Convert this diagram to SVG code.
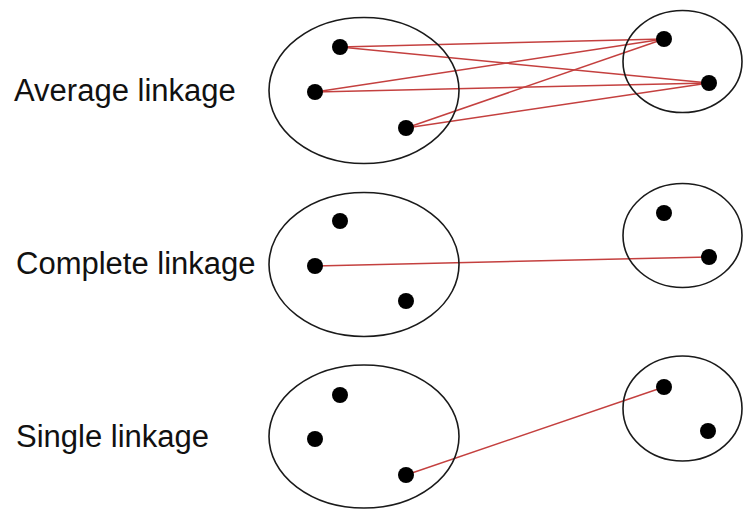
<svg xmlns="http://www.w3.org/2000/svg" width="744" height="511" viewBox="0 0 744 511">
<style>
.cl{fill:none;stroke:#1a1a1a;stroke-width:1.6}
.pt{fill:#000}
.lk{stroke:#c4403f;stroke-width:1.5;fill:none}
.lb{font-family:"Liberation Sans",Arial,sans-serif;font-size:31px;fill:#111}
</style>
<rect width="744" height="511" fill="#fff"/>
<g id="connectors">
<line class="lk" x1="340" y1="47" x2="664" y2="39"/>
<line class="lk" x1="340" y1="47" x2="709" y2="83"/>
<line class="lk" x1="315" y1="92" x2="664" y2="39"/>
<line class="lk" x1="315" y1="92" x2="709" y2="83"/>
<line class="lk" x1="406" y1="128" x2="664" y2="39"/>
<line class="lk" x1="406" y1="128" x2="709" y2="83"/>
<line class="lk" x1="315" y1="266" x2="709" y2="257"/>
<line class="lk" x1="406" y1="475" x2="664" y2="387"/>
</g>
<g id="label-average"><text class="lb" x="14" y="101">Average linkage</text></g>
<g id="label-complete"><text class="lb" x="16" y="274">Complete linkage</text></g>
<g id="label-single"><text class="lb" x="16" y="447">Single linkage</text></g>
<g id="avg-left">
<ellipse class="cl" cx="364" cy="90.5" rx="95" ry="73"/>
<circle class="pt" cx="340" cy="47" r="8"/>
<circle class="pt" cx="315" cy="92" r="8"/>
<circle class="pt" cx="406" cy="128" r="8"/>
</g>
<g id="avg-right">
<ellipse class="cl" cx="682.5" cy="61.5" rx="59.5" ry="51"/>
<circle class="pt" cx="664" cy="39" r="8"/>
<circle class="pt" cx="709" cy="83" r="8"/>
</g>
<g id="comp-left">
<ellipse class="cl" cx="364" cy="264.5" rx="95" ry="72"/>
<circle class="pt" cx="340" cy="221" r="8"/>
<circle class="pt" cx="315" cy="266" r="8"/>
<circle class="pt" cx="406" cy="301" r="8"/>
</g>
<g id="comp-right">
<ellipse class="cl" cx="682.5" cy="235.5" rx="59.5" ry="52"/>
<circle class="pt" cx="664" cy="213" r="8"/>
<circle class="pt" cx="709" cy="257" r="8"/>
</g>
<g id="single-left">
<ellipse class="cl" cx="364" cy="436.5" rx="95" ry="71.5"/>
<circle class="pt" cx="340" cy="395" r="8"/>
<circle class="pt" cx="315" cy="439" r="8"/>
<circle class="pt" cx="406" cy="475" r="8"/>
</g>
<g id="single-right">
<ellipse class="cl" cx="682.5" cy="408.5" rx="59.5" ry="52.5"/>
<circle class="pt" cx="664" cy="387" r="8"/>
<circle class="pt" cx="708" cy="431" r="8"/>
</g>
</svg>
